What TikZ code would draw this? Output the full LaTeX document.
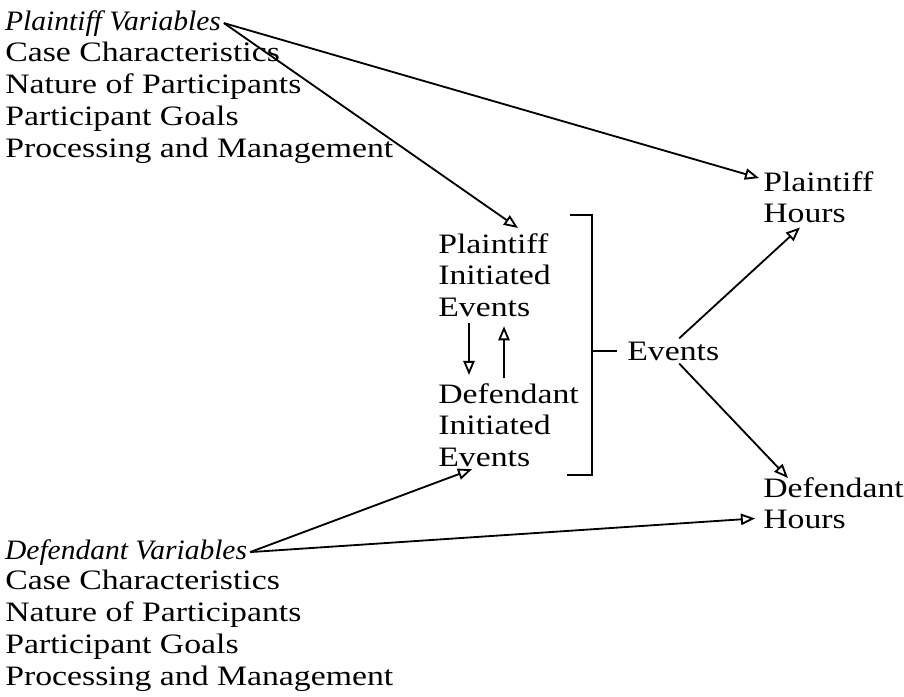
\documentclass[tikz,border=0pt]{standalone}
\usepackage{fontspec}
\setmainfont{Liberation Serif}[FakeStretch=1.2]
\newfontfamily\headfont{Liberation Serif}[FakeStretch=1.05]
\usepackage{tikz}
\usetikzlibrary{arrows.meta}
\tikzset{
  txt/.style={inner sep=0pt, align=left, font=\fontsize{20}{22.6}\selectfont},
  varhead/.style={inner sep=2pt, font=\headfont\fontsize{20}{22.6}\selectfont\itshape},
  arr/.style={-{Triangle[open,length=10pt,width=8pt]}, line width=1.3pt},
}

\begin{document}
\begin{tikzpicture}[x=0.025cm, y=-0.025cm]
  \useasboundingbox (0,0) rectangle (904,697);
  % Variable lists
  \node[varhead, anchor=base west] (pv) at (2,30) {Plaintiff Variables};
  \node[txt, anchor=north west] (pvlist) at (5,42) {Case Characteristics\\Nature of Participants\\Participant Goals\\Processing and Management};
  \node[varhead, anchor=base west] (dv) at (2,559) {Defendant Variables};
  \node[txt, anchor=north west] (dvlist) at (5,570) {Case Characteristics\\Nature of Participants\\Participant Goals\\Processing and Management};
  % Events
  \node[txt, anchor=north west] (pie) at (438,233) {Plaintiff\\Initiated\\Events};
  \node[txt, anchor=north west] (die) at (438,383) {Defendant\\Initiated\\Events};
  \node[txt, anchor=base west] (ev) at (627,360) {Events};
  % Hours
  \node[txt, anchor=north west] (ph) at (763,171) {Plaintiff\\Hours};
  \node[txt, anchor=north west] (dh) at (763,477) {Defendant\\Hours};
  % Bracket
  \coordinate (brtop) at (592,215);
  \coordinate (brbot) at (592,475);
  \draw[line width=1.3pt] ([shift={(-22,0)}]brtop) -- (brtop) -- (brbot) -- ([shift={(-25,0)}]brbot);
  \draw[line width=1.3pt] (brtop |- ev.west) -- ([shift={(-10,0)}]ev.west);
  % Arrows
  \draw[arr] (pv.east) -- ([shift={(-4,7)}]ph.north west);
  \draw[arr] (pv.east) -- ([shift={(80,-5)}]pie.north west);
  \draw[arr] ([shift={(31,6)}]pie.south west) -- ([shift={(31,-8)}]die.north west);
  \draw[arr] ([shift={(66,-5)}]die.north west) -- ([shift={(66,9)}]pie.south west);
  \draw[arr] ([shift={(6,-3)}]ev.north) -- ([shift={(37,4)}]ph.south west);
  \draw[arr] ([shift={(6,3)}]ev.south) -- ([shift={(25,1)}]dh.north west);
  \draw[arr] (dv.east) -- ([shift={(34,2)}]die.south west);
  \draw[arr] (dv.east) -- ([shift={(-8,-11)}]dh.south west);
\end{tikzpicture}
\end{document}
